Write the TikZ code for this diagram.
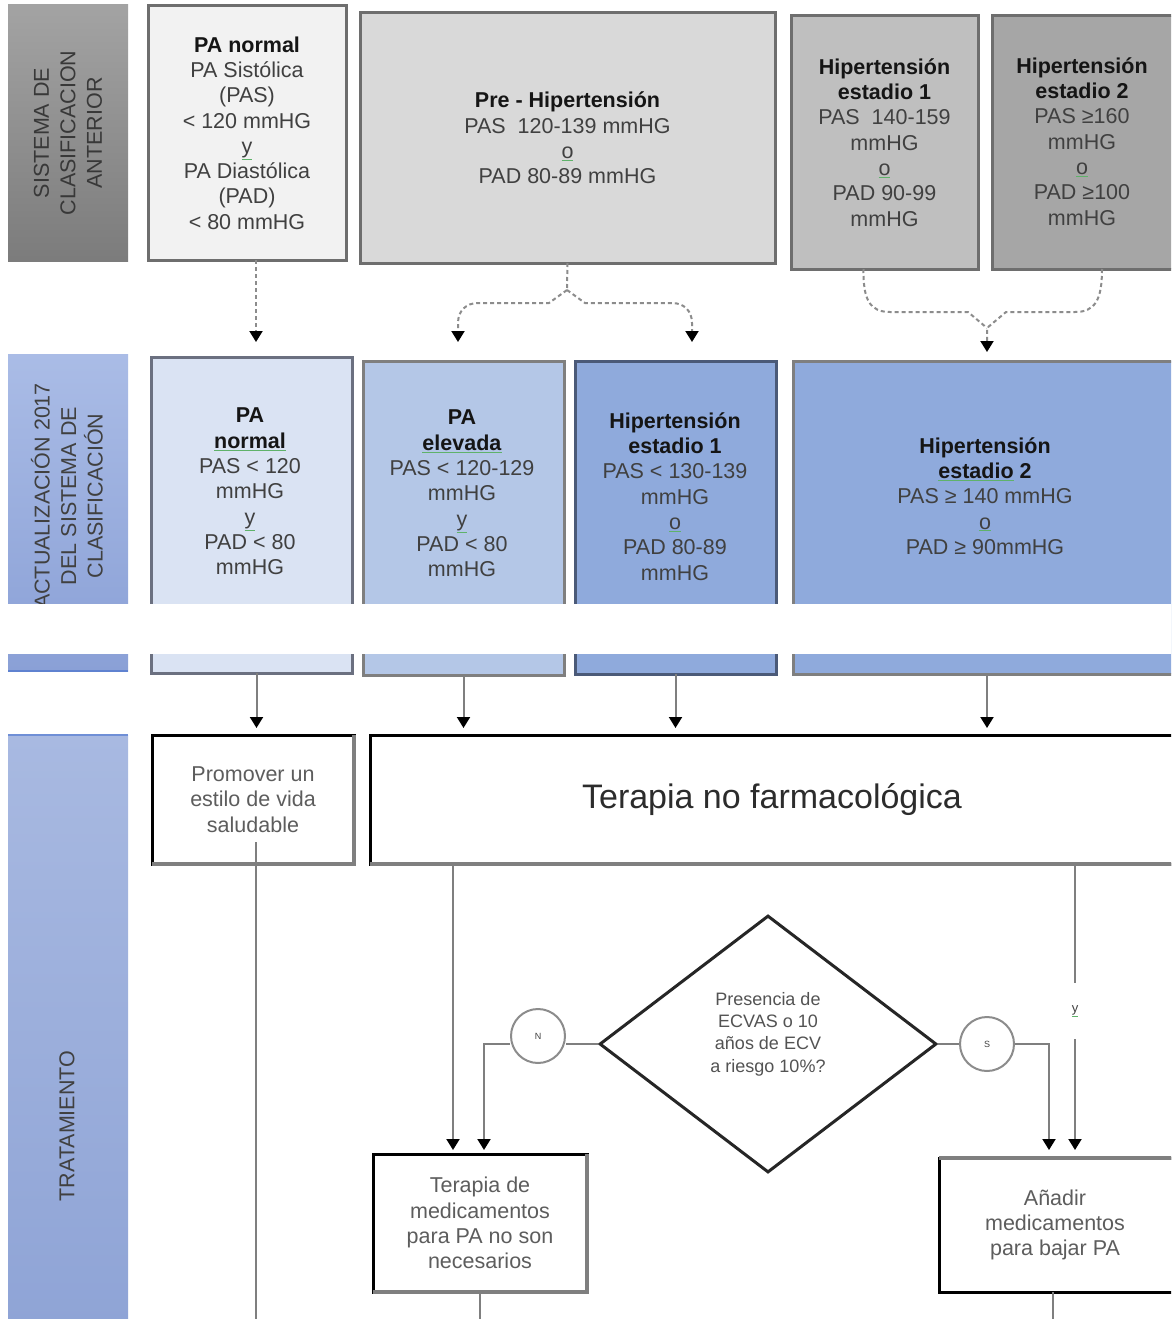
\documentclass[tikz,border=0pt]{standalone}
\usepackage{fontspec}
\setmainfont{Liberation Sans}
\usetikzlibrary{arrows.meta,shapes.geometric}

\definecolor{txt}{HTML}{404040}
\definecolor{head}{HTML}{151515}
\definecolor{ulgreen}{HTML}{5FB26A}
\definecolor{oldedge}{HTML}{6E6E6E}
\definecolor{connGray}{HTML}{7F7F7F}
\definecolor{dashGray}{HTML}{8C8C8C}
\definecolor{fOne}{HTML}{F2F2F2}
\definecolor{fTwo}{HTML}{D9D9D9}
\definecolor{fThree}{HTML}{BFBFBF}
\definecolor{fFour}{HTML}{A6A6A6}
\definecolor{bOne}{HTML}{DAE3F3}
\definecolor{bTwo}{HTML}{B4C7E7}
\definecolor{bThree}{HTML}{8FAADC}
\definecolor{edgeSlate}{HTML}{4B5A78}
\definecolor{edgeBlueGray}{HTML}{6B7080}

% green spell-check style underline under a word
\newcommand\gu[1]{{\color{ulgreen}\underline{\color{txt}#1}}}

\tikzset{
  base/.style={inner sep=0, outer sep=0, anchor=north west},
  tx/.style={font=\fontsize{21.5}{25.3}\selectfont, text=txt, align=center, inner sep=0},
  lbltx/.style={font=\fontsize{21.5}{26.5}\selectfont, align=center, inner sep=0, rotate=90},
  oldbox/.style={base, tx, draw=oldedge, line width=3},
  newbox/.style={base, line width=3},
  trbox/.style={base, tx, text=txt!85!white, draw=black, line width=3, fill=white},
  grayedge/.style={draw=connGray, line width=4},
  tipstyle/.style={-{Triangle[width=13,length=11,color=black]}},
  dline/.style={draw=dashGray, line width=2, dash pattern=on 4 off 3},
  dconn/.style={dline, tipstyle},
  plain/.style={draw=connGray, line width=2},
  conn/.style={plain, tipstyle},
  circ/.style={circle, draw=dashGray, line width=2, fill=white, minimum size=54,
               inner sep=0, font=\fontsize{9}{10}\selectfont, text=txt},
}

\begin{document}
\begin{tikzpicture}[x=1pt, y=-1pt]
\useasboundingbox (0,0) rectangle (1171,1319);
\clip (0,0) rectangle (1171,1319);
\fill[white] (0,0) rectangle (1171,1319);

% ---------- row labels ----------
\node[base, minimum width=120, minimum height=256, top color=gray!72, bottom color=gray!97!black] (lblold) at (8,5) {};
\node[lbltx, text=black!78] (lbloldt) at (lblold.center) {SISTEMA DE\\CLASIFICACION\\ANTERIOR};

\node[base, minimum width=120, minimum height=317, top color={rgb,255:red,170;green,188;blue,230}, bottom color={rgb,255:red,138;green,160;blue,214}] (lblnew) at (8,354) {};
\draw[draw={rgb,255:red,95;green,130;blue,208}, line width=2] (lblnew.south west) -- (lblnew.south east);
\node[lbltx, text=black!75] (lblnewt) at (67,496) {ACTUALIZACIÓN 2017\\DEL SISTEMA DE\\CLASIFICACIÓN};

\node[base, minimum width=120, minimum height=590, top color={rgb,255:red,168;green,185;blue,225}, bottom color={rgb,255:red,143;green,164;blue,214}] (lbltr) at (8,735) {};
\draw[draw={rgb,255:red,111;green,143;blue,214}, line width=2] (lbltr.north west) -- (lbltr.north east);
\node[lbltx, text=black!75] (lbltrt) at (67,1126) {TRATAMIENTO};

% ---------- previous classification ----------
\node[oldbox, fill=fOne, minimum width=198, minimum height=254] (oldnorm) at (148,6)
  {\textcolor{head}{\textbf{PA normal}}\\PA Sistólica\\(PAS)\\< 120 mmHG\\\gu{y}\\PA Diastólica\\(PAD)\\< 80 mmHG};
\node[oldbox, fill=fTwo, minimum width=415, minimum height=250] (oldpre) at (360,13)
  {\textcolor{head}{\textbf{Pre - Hipertensión}}\\PAS\ \ 120-139 mmHG\\\gu{o}\\PAD 80-89 mmHG};
\node[oldbox, fill=fThree, minimum width=187, minimum height=253] (oldhone) at (791,16)
  {\textcolor{head}{\textbf{Hipertensión}}\\\textcolor{head}{\textbf{estadio 1}}\\PAS\ \ 140-159\\mmHG\\\gu{o}\\PAD 90-99\\mmHG};
\node[oldbox, fill=fFour, minimum width=200, minimum height=253, anchor=north west] (oldhtwo) at (992,16) {};
\node[tx] (oldhtwot) at (1082,141.5)
  {\textcolor{head}{\textbf{Hipertensión}}\\\textcolor{head}{\textbf{estadio 2}}\\PAS ≥160\\mmHG\\\gu{o}\\PAD ≥100\\mmHG};

% ---------- 2017 classification ----------
\node[newbox, fill=bOne, draw=edgeBlueGray, minimum width=201, minimum height=316] (newnorm) at (151,357) {};
\node[newbox, fill=bTwo, draw=connGray, minimum width=201, minimum height=314] (newelev) at (363,361) {};
\node[newbox, fill=bThree, draw=edgeSlate, minimum width=201, minimum height=313] (newhone) at (575,361) {};
\node[newbox, fill=bThree, draw=connGray, minimum width=400, minimum height=313] (newhtwo) at (793,361) {};

\node[tx] (newnormt) at (250,491.5)
  {\textcolor{head}{\textbf{PA}}\\\gu{\textcolor{head}{\textbf{normal}}}\\PAS < 120\\mmHG\\\gu{y}\\PAD < 80\\mmHG};
\node[tx] (newelevt) at (462,493.5)
  {\textcolor{head}{\textbf{PA}}\\\gu{\textcolor{head}{\textbf{elevada}}}\\PAS < 120-129\\mmHG\\\gu{y}\\PAD < 80\\mmHG};
\node[tx] (newhonet) at (675,496.5)
  {\textcolor{head}{\textbf{Hipertensión}}\\\textcolor{head}{\textbf{estadio 1}}\\PAS < 130-139\\mmHG\\\gu{o}\\PAD 80-89\\mmHG};
\node[tx] (newhtwot) at (985,496)
  {\textcolor{head}{\textbf{Hipertensión}}\\\gu{\textcolor{head}{\textbf{estadio}}}\textcolor{head}{\textbf{ 2}}\\PAS ≥ 140 mmHG\\\gu{o}\\PAD ≥ 90mmHG};

% break in the page across the 2017 row
\fill[white] (-10,604) rectangle (1200,654);

% ---------- dashed links between classifications ----------
\coordinate (tipA) at (256,342);
\draw[dconn] ([xshift=9]oldnorm.south) -- (tipA);

\coordinate (split) at (567,290);
\coordinate (tipB) at (458,342);
\coordinate (tipC) at (692,342);
\draw[dline] (oldpre.south) -- (split);
\draw[dconn] (split) -- (549,303) -- (478,303) .. controls (466,303) and (458,311) .. (458,323) -- (tipB);
\draw[dconn] (split) -- (585,303) -- (672,303) .. controls (684,303) and (692,311) .. (692,323) -- (tipC);

\coordinate (merge) at (987,328);
\coordinate (tipD) at (987,352);
\draw[dline] ([xshift=-21]oldhone.south) .. controls (863,300) and (870,312) .. (890,312) -- (968,312) -- (merge);
\draw[dconn] ([xshift=10]oldhtwo.south) .. controls (1102,300) and (1095,312) .. (1075,312) -- (1006,312) -- (merge) -- (tipD);

% ---------- treatment ----------
\node[trbox, minimum width=202, minimum height=129] (promo) at (152,735)
  {Promover un\\estilo de vida\\saludable};
\node[trbox, minimum width=820, minimum height=129] (nofarm) at (370,735) {};
\node[tx, text=head!90!white, font=\fontsize{34}{38}\selectfont] (nofarmt) at (772,800)
  {Terapia no farmacológica};
\node[trbox, minimum width=214, minimum height=138] (med) at (373,1154)
  {Terapia de\\medicamentos\\para PA no son\\necesarios};
\node[trbox, minimum width=250, minimum height=134] (add) at (939,1158) {};
\node[tx, text=txt!85!white] (addt) at (1055,1225)
  {Añadir\\medicamentos\\para bajar PA};
\draw[grayedge] (promo.north east) -- (promo.south east) -- (promo.south west);
\draw[grayedge] (nofarm.south west) -- (nofarm.south east);
\draw[grayedge] (med.north east) -- (med.south east) -- (med.south west);
\draw[grayedge] (add.north west) -- (add.north east);

\node[diamond, draw=black!85, line width=3, minimum width=337, minimum height=257, inner sep=0] (q) at (768,1044) {};
\node[tx, font=\fontsize{18}{22.3}\selectfont, text=txt!90!white] (qt) at (768,1034)
  {Presencia de\\ECVAS o 10\\años de ECV\\a riesgo 10\%?};

\node[circ] (N) at (538,1036) {N};
\node[circ] (S) at (987,1044) {S};

% arrows from the 2017 classes into treatment
\draw[conn, shorten >=7] ([xshift=5]newnorm.south) -- ([xshift=5]newnorm.south |- promo.north);
\draw[conn, shorten >=7] (newelev.south) -- (newelev.south |- nofarm.north);
\draw[conn, shorten >=7] (newhone.south) -- (newhone.south |- nofarm.north);
\draw[conn, shorten >=7] (tipD |- newhtwo.south) -- (tipD |- nofarm.north);

\coordinate (bottom) at (0,1319);
\coordinate (medL) at ([xshift=-27]med.north);
\coordinate (medR) at ([xshift=4]med.north);
\coordinate (addL) at (1049,1158);
\coordinate (addR) at (1075,1158);

\draw[plain] ([yshift=22,xshift=3]promo.south) -- ([xshift=3]promo.south |- bottom);
\draw[conn, shorten >=4] (medL |- nofarm.south) -- (medL);

\draw[plain] (q.west) -- (q.west -| N.east);
\draw[conn, shorten >=4] (q.west -| N.west) -- (q.west -| medR) -- (medR);

\draw[plain] (q.east) -- (S.west);
\draw[conn, shorten >=8] (S.east) -- (S.east -| addL) -- (addL);
\draw[conn, shorten >=8] (addR |- nofarm.south) -- (addR)
  node[pos=0.5, fill=white, inner xsep=3, inner ysep=0, minimum height=56, text=txt,
       font=\fontsize{13}{14}\selectfont] (ylabel) {\gu{y}};

\draw[plain] (med.south) -- (med.south |- bottom);
\draw[plain] ([xshift=-2]addt.south |- add.south) -- ([xshift=-2]addt.south |- bottom);
\end{tikzpicture}
\end{document}
